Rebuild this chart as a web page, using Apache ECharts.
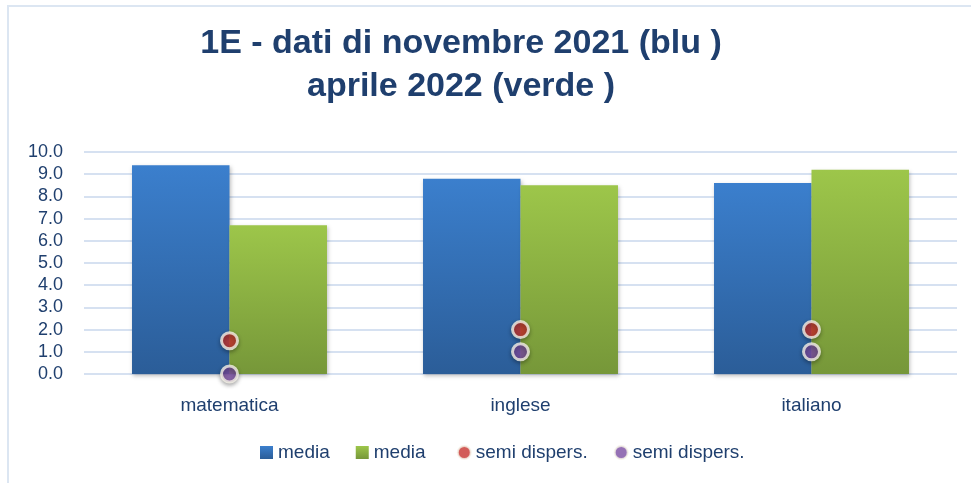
<!DOCTYPE html>
<html>
<head>
<meta charset="utf-8">
<script src="https://cdn.jsdelivr.net/npm/echarts@6/dist/echarts.min.js"></script>
<style>
  html, body { margin: 0; padding: 0; background: #ffffff; }
  #chart { width: 971px; height: 483px; }
</style>
</head>
<body>
<div id="chart"></div>
<script>
// Subjects on the x axis
const categories = ['matematica', 'inglese', 'italiano'];
// Averages: November 2021 (blue) and April 2022 (green)
const mediaNovembre = [9.4, 8.8, 8.6];
const mediaAprile = [6.7, 8.5, 9.2];
// Half dispersion values
const semiDispersRossi = [1.5, 2.0, 2.0];
const semiDispersViola = [0.0, 1.0, 1.0];
// Value axis ticks
const yMin = 0, yMax = 10, yStep = 1;

const textBlue = '#1F3F6E';
const font = '"Liberation Sans", sans-serif';

const chart = echarts.init(document.getElementById('chart'));

function grad(top, bottom) {
  return new echarts.graphic.LinearGradient(0, 0, 0, 1, [
    { offset: 0, color: top },
    { offset: 1, color: bottom }
  ]);
}

const pointStyle = (color) => ({
  color: color,
  borderColor: '#F4F0E6',
  borderWidth: 3,
  shadowColor: 'rgba(0,0,0,0.35)',
  shadowBlur: 4,
  shadowOffsetY: 2
});

chart.setOption({
  animation: false,
  backgroundColor: '#ffffff',
  graphic: [{
    type: 'rect',
    shape: { x: 8, y: 6, width: 1000, height: 500 },
    style: { fill: 'none', stroke: '#DCE6F2', lineWidth: 2 },
    silent: true,
    z: -10
  }],
  title: {
    text: '1E - dati di novembre 2021 (blu )\naprile 2022 (verde )',
    left: 456,
    textAlign: 'center',
    top: 17,
    textStyle: {
      fontFamily: font,
      fontWeight: 'bold',
      fontSize: 34,
      lineHeight: 43,
      color: textBlue
    }
  },
  legend: {
    top: 438,
    left: 255,
    itemGap: 26,
    itemWidth: 13,
    itemHeight: 13,
    textStyle: { fontFamily: font, fontSize: 19, color: textBlue },
    data: [
      { name: 'media', icon: 'rect' },
      { name: 'media ', icon: 'rect' },
      { name: 'semi dispers.', icon: 'circle' },
      { name: 'semi dispers. ', icon: 'circle' }
    ]
  },
  grid: { left: 84, right: 14, top: 152, bottom: 109 },
  xAxis: {
    type: 'category',
    data: categories,
    axisLine: { show: false },
    axisTick: { show: false },
    axisLabel: { fontFamily: font, fontSize: 19, color: textBlue, margin: 22 }
  },
  yAxis: {
    type: 'value',
    min: yMin,
    max: yMax,
    interval: yStep,
    axisLine: { show: false },
    axisTick: { show: false },
    axisLabel: {
      fontFamily: font, fontSize: 18, color: textBlue, margin: 21,
      formatter: (v) => v.toFixed(1)
    },
    splitLine: { lineStyle: { color: '#D6E1F1', width: 2 } }
  },
  series: [
    {
      name: 'media',
      type: 'bar',
      data: mediaNovembre,
      barGap: '0%',
      barCategoryGap: '33%',
      itemStyle: {
        color: grad('#3B7FCD', '#2B5D98'),
        shadowColor: 'rgba(0,0,0,0.25)',
        shadowBlur: 4,
        shadowOffsetX: 1,
        shadowOffsetY: 2
      }
    },
    {
      name: 'media ',
      type: 'bar',
      data: mediaAprile,
      itemStyle: {
        color: grad('#9DC64A', '#769739'),
        shadowColor: 'rgba(0,0,0,0.25)',
        shadowBlur: 4,
        shadowOffsetX: 1,
        shadowOffsetY: 2
      }
    },
    {
      name: 'semi dispers.',
      type: 'scatter',
      data: semiDispersRossi,
      symbolSize: 16,
      itemStyle: pointStyle('#C7332E'),
      z: 5
    },
    {
      name: 'semi dispers. ',
      type: 'scatter',
      data: semiDispersViola,
      symbolSize: 16,
      itemStyle: pointStyle('#7B4DA3'),
      z: 5
    }
  ]
});
</script>
</body>
</html>
